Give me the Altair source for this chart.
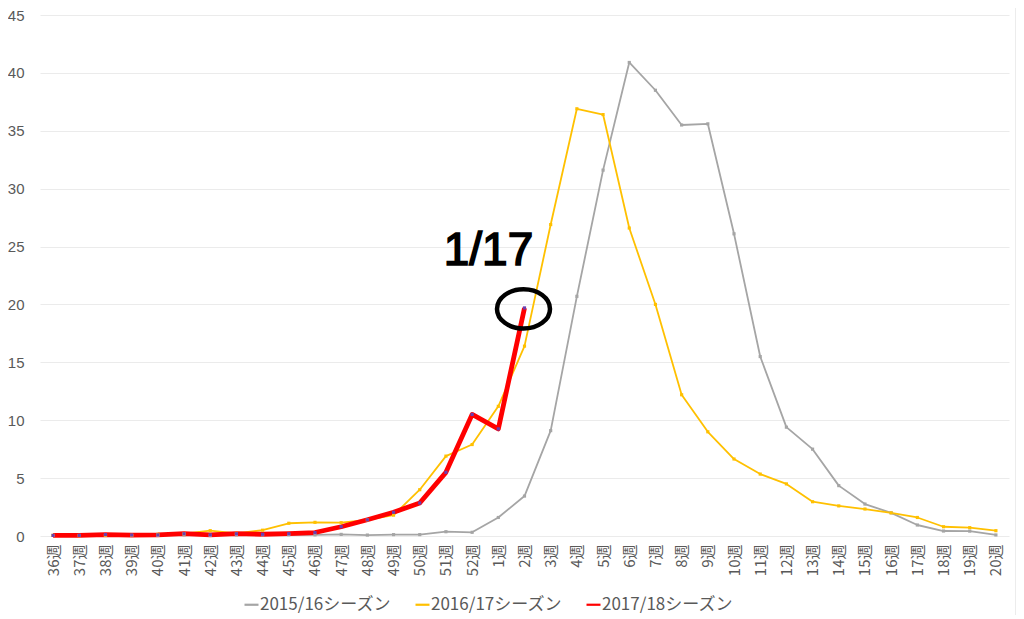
import altair as alt
import pandas as pd

weeks = ["36週", "37週", "38週", "39週", "40週", "41週", "42週", "43週", "44週", "45週",
         "46週", "47週", "48週", "49週", "50週", "51週", "52週",
         "1週", "2週", "3週", "4週", "5週", "6週", "7週", "8週", "9週", "10週",
         "11週", "12週", "13週", "14週", "15週", "16週", "17週", "18週", "19週", "20週"]

seasons = ["2015/16シーズン", "2016/17シーズン", "2017/18シーズン"]

s2015 = [0.05, 0.05, 0.05, 0.05, 0.05, 0.1, 0.05, 0.1, 0.1, 0.1, 0.1, 0.14, 0.08, 0.12, 0.12, 0.37, 0.32,
         1.6, 3.45, 9.1, 20.7, 31.6, 40.9, 38.5, 35.5, 35.6, 26.1, 15.5, 9.4, 7.5, 4.35, 2.76, 2.0, 0.95, 0.43, 0.42, 0.09]
s2016 = [0.05, 0.03, 0.05, 0.05, 0.15, 0.2, 0.46, 0.23, 0.5, 1.1, 1.18, 1.15, 1.4, 1.8, 4.0, 6.9, 7.9,
         11.2, 16.4, 26.9, 36.9, 36.4, 26.6, 20.0, 12.2, 9.0, 6.65, 5.35, 4.5, 2.96, 2.6, 2.33, 2.0, 1.6, 0.8, 0.72, 0.46]
s2017 = [0.05, 0.05, 0.12, 0.08, 0.1, 0.2, 0.1, 0.2, 0.15, 0.2, 0.3, 0.8, 1.4, 2.05, 2.85, 5.5, 10.5,
         9.25, 19.7]

annotation_text = "1/17"

rows = []
for name, vals in zip(seasons, [s2015, s2016, s2017]):
    for i, v in enumerate(vals):
        rows.append({"week": weeks[i], "value": v, "season": name, "order": i})
df = pd.DataFrame(rows)

FONT = "Noto Sans CJK JP"
NUM_FONT = "Liberation Sans"
LABEL_COLOR = "#595959"

x_enc = alt.X("week:N", sort=weeks,
              scale=alt.Scale(type="point", padding=0.5),
              axis=alt.Axis(title=None, labelAngle=270, ticks=False, domain=False,
                            labelPadding=8, labelFontSize=15, labelColor=LABEL_COLOR,
                            labelFont=FONT, grid=False))
y_enc = alt.Y("value:Q", scale=alt.Scale(domain=[0, 45], nice=False),
              axis=alt.Axis(title=None, values=[0, 5, 10, 15, 20, 25, 30, 35, 40, 45],
                            ticks=False, domain=False, grid=True, gridColor="#EBEBEB",
                            gridWidth=1.2, labelPadding=16, labelFontSize=15,
                            labelColor=LABEL_COLOR, labelFont=NUM_FONT))

base = alt.Chart(df)

lines = base.mark_line(strokeJoin="round").encode(
    x=x_enc, y=y_enc,
    order="order:Q",
    color=alt.Color("season:N",
                    scale=alt.Scale(domain=seasons, range=["#A5A5A5", "#FFC000", "#FF0000"]),
                    legend=alt.Legend(title=None)),
    strokeWidth=alt.condition(alt.datum.season == seasons[2], alt.value(4.8), alt.value(1.8)),
)

points = base.mark_point(filled=True, shape="square", size=10, opacity=1, strokeWidth=0).encode(
    x=x_enc, y=y_enc,
    fill=alt.Fill("season:N",
                  scale=alt.Scale(domain=seasons, range=["#A5A5A5", "#FFC000", "#6A3FB0"]),
                  legend=None),
)

ann_df = pd.DataFrame({"week": [weeks[len(s2017) - 1]], "value": [s2017[-1]], "label": [annotation_text]})
ann_base = alt.Chart(ann_df)

ellipse_path = ("M -1 0 C -1 -0.41 -0.552 -0.74 0 -0.74 C 0.552 -0.74 1 -0.41 1 0 "
                "C 1 0.41 0.552 0.74 0 0.74 C -0.552 0.74 -1 0.41 -1 0 Z")
ellipse = ann_base.mark_point(shape=ellipse_path, filled=False, stroke="black",
                              strokeWidth=4.5, size=2809, opacity=1, xOffset=-1, yOffset=1).encode(
    x=alt.X("week:N", sort=weeks), y=alt.Y("value:Q"))

hand_text = ann_base.mark_text(dx=-36, dy=-57, fontSize=46,
                               font="Liberation Sans",
                               fontWeight="normal", color="black", align="center",
                               baseline="middle", stroke="black", strokeWidth=1.6).encode(
    x=alt.X("week:N", sort=weeks), y=alt.Y("value:Q"), text="label:N")

border = alt.Chart(pd.DataFrame({"a": [0]})).mark_rule(color="#D9D9D9", strokeWidth=1).encode(
    x=alt.value(976), y=alt.value(-15), y2=alt.value(600))

chart = alt.layer(lines, points, ellipse, hand_text, border).properties(
    width=969, height=521,
    padding={"left": 32, "top": 7, "right": 7, "bottom": 86},
    autosize=alt.AutoSizeParams(type="none"),
    background="white",
).configure_view(stroke=None).configure_legend(
    orient="none", legendX=203, legendY=581, direction="horizontal", columns=3,
    symbolType="stroke", symbolSize=196, symbolStrokeWidth=2.2,
    labelFont=FONT, labelFontSize=17, labelColor=LABEL_COLOR,
    labelOffset=0, columnPadding=19,
)

chart.save("out.html", embed_options={"renderer": "svg", "actions": False})
